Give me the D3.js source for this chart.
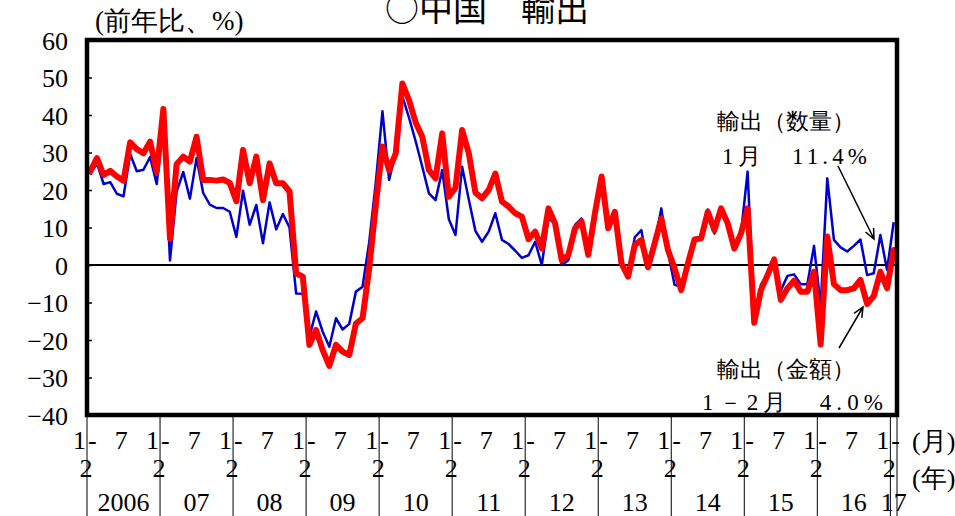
<!DOCTYPE html>
<html>
<head>
<meta charset="utf-8">
<script src="https://cdn.jsdelivr.net/npm/d3@7"></script>
<style>
  html, body { margin: 0; padding: 0; background: #fff; }
  svg { display: block; }
</style>
</head>
<body>
<svg id="chart" width="955" height="516"></svg>
<script>
// China exports, year-on-year % change. Jan and Feb are combined ("1-2"),
// so each year has 11 points: 1-2, 3, 4, ..., 12.
const years = ["2006", "07", "08", "09", "10", "11", "12", "13", "14", "15", "16", "17"];
const yTicks = [60, 50, 40, 30, 20, 10, 0, -10, -20, -30, -40];

// 輸出（金額） value basis
const exportValue = [
  25.0, 28.5, 24.0, 25.1, 23.6, 22.5, 32.7, 30.9, 29.8, 32.9, 24.8,
  41.6, 7.1, 26.9, 28.9, 27.6, 34.2, 22.7, 22.7, 22.5, 22.8, 21.9,
  17.0, 30.7, 21.8, 28.9, 17.3, 27.1, 21.8, 21.8, 19.6, -2.2, -3.1,
  -21.3, -17.3, -22.7, -26.9, -21.3, -23.1, -24.0, -15.6, -14.2, -1.0, 16.0,
  31.6, 25.3, 29.8, 48.4, 44.0, 38.0, 34.2, 25.3, 23.1, 35.1, 18.2,
  20.6, 36.0, 29.8, 19.3, 17.8, 20.0, 24.4, 16.9, 15.6, 13.8, 12.9,
  6.9, 8.9, 4.4, 15.1, 11.1, 1.3, 2.7, 9.8, 11.6, 2.7, 13.8,
  23.6, 9.8, 14.2, 0.4, -3.1, 5.3, 6.7, -0.6, 5.8, 12.4, 4.0,
  -0.9, -6.7, 0.4, 6.8, 7.1, 14.2, 9.3, 15.1, 11.1, 4.4, 8.4,
  15.1, -15.4, -6.7, -2.7, 1.5, -9.3, -6.2, -4.2, -7.1, -7.1, -1.8,
  -21.2, 7.6, -5.1, -6.7, -6.7, -6.2, -4.0, -10.4, -8.3, -1.8, -6.2,
  4.0
];

// 輸出（数量） volume basis
const exportVolume = [
  24.1, 27.2, 21.6, 22.1, 19.0, 18.3, 29.6, 25.0, 25.4, 28.8, 21.6,
  38.0, 1.2, 19.6, 24.8, 17.7, 28.5, 19.2, 16.1, 15.2, 15.2, 14.2,
  7.5, 19.8, 10.7, 16.0, 5.8, 16.7, 9.5, 13.6, 10.0, -7.6, -7.7,
  -19.1, -12.4, -17.8, -21.8, -14.2, -17.2, -15.7, -7.1, -5.8, 6.0, 22.0,
  41.0, 22.7, 30.0, 45.0, 39.3, 33.0, 26.2, 19.1, 17.3, 25.3, 12.2,
  8.0, 26.2, 17.5, 9.1, 6.2, 8.9, 13.8, 6.7, 5.6, 3.8, 1.9,
  2.6, 6.2, 0.0, 12.4, 11.1, 0.0, 1.3, 10.7, 12.4, 2.7, 13.8,
  23.0, 9.8, 14.0, 0.4, -3.1, 7.4, 9.3, -0.9, 5.8, 15.1, 3.5,
  -5.3, -5.8, 0.4, 6.8, 7.1, 14.8, 8.4, 15.1, 12.0, 4.4, 8.4,
  24.9, -14.0, -5.3, -2.2, 1.3, -6.8, -2.9, -2.5, -5.1, -5.1, 5.1,
  -11.0, 23.1, 6.7, 4.7, 3.6, 5.1, 6.8, -2.7, -2.2, 8.0, -1.3,
  11.4
];

const perYear = 11;
const nPoints = exportValue.length;
const serifFont = "'Liberation Serif', 'DejaVu Serif', serif";
const gothicFont = "'Noto Sans CJK JP', sans-serif";

const svg = d3.select("#chart");
const plotLeft = 87, plotRight = 897, plotTop = 40, plotBottom = 415;

const x = d3.scaleLinear().domain([0, nPoints]).range([plotLeft, plotRight]);
const y = d3.scaleLinear().domain([-40, 60]).range([plotBottom, plotTop]);

// Title and unit
svg.append("text").style("font-family", gothicFont)
  .attr("x", 487).attr("y", 21).attr("text-anchor", "middle")
  .attr("font-size", 34).text("○中国　輸出");
svg.append("text").style("font-family", serifFont)
  .attr("x", 95).attr("y", 30).attr("font-size", 27).text("(前年比、%)");

// Y axis: labels outside, short ticks pointing into the plot
const yAxis = d3.axisLeft(y).tickValues(yTicks).tickSizeInner(-5).tickSizeOuter(0)
  .tickPadding(19).tickFormat(d3.format("d"));
const gy = svg.append("g").attr("transform", `translate(${plotLeft},0)`).call(yAxis);
gy.select(".domain").remove();
gy.attr("font-family", null).attr("font-size", null);
gy.selectAll(".tick line").attr("stroke", "#000").attr("stroke-width", 1.5);
gy.selectAll(".tick text").style("font-family", serifFont).attr("font-size", 26)
  .attr("fill", "#000").attr("dy", "0.35em");

// Zero line
svg.append("line")
  .attr("x1", plotLeft).attr("x2", plotRight).attr("y1", y(0)).attr("y2", y(0))
  .attr("stroke", "#000").attr("stroke-width", 2);

// Series lines
const line = d3.line().x((d, i) => x(i + 0.5)).y(d => y(d));
svg.append("path").datum(exportVolume).attr("d", line)
  .attr("fill", "none").attr("stroke", "#0000cc").attr("stroke-width", 2.5)
  .attr("stroke-linejoin", "round");
svg.append("path").datum(exportValue).attr("d", line)
  .attr("fill", "none").attr("stroke", "#ff0000").attr("stroke-width", 6)
  .attr("stroke-linejoin", "round").attr("stroke-linecap", "round");

// Plot frame
svg.append("rect")
  .attr("x", plotLeft).attr("y", plotTop)
  .attr("width", plotRight - plotLeft).attr("height", plotBottom - plotTop)
  .attr("fill", "none").attr("stroke", "#000").attr("stroke-width", 4.5);

// X axis: year separators with month and year labels
const gx = svg.append("g").style("font-family", serifFont).attr("font-size", 26);
years.forEach((yr, k) => {
  const bx = x(k * perYear);
  gx.append("line").attr("x1", bx).attr("x2", bx).attr("y1", plotBottom).attr("y2", 516)
    .attr("stroke", "#000").attr("stroke-width", 1);
  gx.append("text").attr("x", bx - 1).attr("y", 449).attr("text-anchor", "end").text("1");
  gx.append("text").attr("x", bx + 1).attr("y", 449).text("-");
  gx.append("text").attr("x", bx - 1).attr("y", 477).attr("text-anchor", "middle").text("2");
  const last = k === years.length - 1;
  if (!last) {
    gx.append("text").attr("x", x(k * perYear + 5) + 1).attr("y", 449)
      .attr("text-anchor", "middle").text("7");
  }
  const cx = last ? (bx + plotRight) / 2 : x(k * perYear + perYear / 2);
  gx.append("text").attr("x", cx).attr("y", 511).attr("text-anchor", "middle").text(yr);
});
gx.append("line").attr("x1", plotRight).attr("x2", plotRight).attr("y1", plotBottom).attr("y2", 516)
  .attr("stroke", "#000").attr("stroke-width", 1);
gx.append("text").attr("x", 912).attr("y", 450).text("(月)");
gx.append("text").attr("x", 912).attr("y", 487).text("(年)");

// Annotations
const ann = svg.append("g").style("font-family", serifFont).attr("font-size", 23);
ann.append("text").attr("x", 717).attr("y", 129).text("輸出（数量）");
ann.append("text").attr("x", 722).attr("y", 164)
  .attr("textLength", 145).attr("lengthAdjust", "spacing").text("1月　11.4%");
ann.append("text").attr("x", 717).attr("y", 377).text("輸出（金額）");
ann.append("text").attr("x", 702).attr("y", 410)
  .attr("textLength", 181).attr("lengthAdjust", "spacing").text("1－2月　4.0%");

// Arrows pointing at the latest points
function arrow(x1, y1, x2, y2) {
  const a = Math.atan2(y2 - y1, x2 - x1), h = 11, w = 0.42;
  const p1 = [x2 - h * Math.cos(a - w), y2 - h * Math.sin(a - w)];
  const p2 = [x2 - h * Math.cos(a + w), y2 - h * Math.sin(a + w)];
  svg.append("path")
    .attr("d", `M${x1},${y1}L${x2},${y2}M${p1[0]},${p1[1]}L${x2},${y2}L${p2[0]},${p2[1]}`)
    .attr("fill", "none").attr("stroke", "#000").attr("stroke-width", 1.5);
}
arrow(838, 166, 874, 239);
arrow(839, 348, 863, 307);
</script>
</body>
</html>
